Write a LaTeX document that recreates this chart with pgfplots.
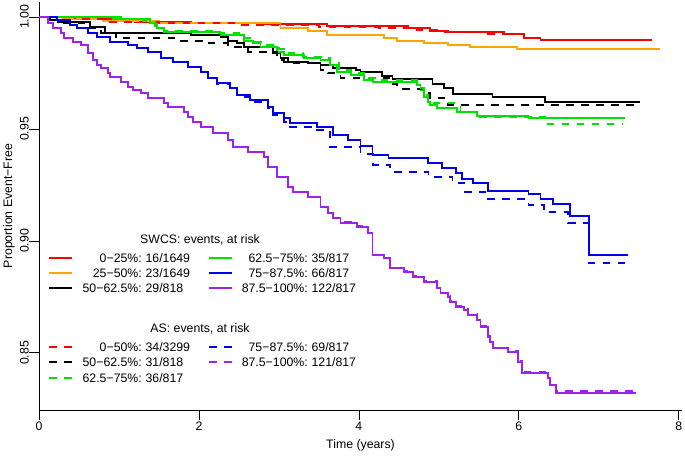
\documentclass[border=0pt]{standalone}
\usepackage{fontspec}
\setmainfont{Liberation Sans}
\usepackage{pgfplots}
\pgfplotsset{compat=1.18}
\definecolor{rred}{RGB}{255,0,0}
\definecolor{rorange}{RGB}{255,165,0}
\definecolor{rgreen}{RGB}{0,225,0}
\definecolor{rblue}{RGB}{0,0,235}
\definecolor{rpurple}{RGB}{160,32,240}
\tikzset{
  sol/.style={line width=1.9bp},
  dsh/.style={line width=1.9bp, dash pattern=on 7.5bp off 7.5bp},
}
\begin{document}
\fontsize{12.3bp}{14bp}\selectfont
\begin{tikzpicture}
\path[use as bounding box] (-39bp,-47bp) rectangle (646bp,410bp);
\begin{axis}[
  at={(0,0)}, anchor=south west,
  scale only axis, width=643bp, height=408bp,
  xmin=0, xmax=8.04, ymin=0.82449, ymax=1.0067,
  axis x line*=bottom, axis y line*=left,
  axis line style={black, line width=0.8bp, -},
  xtick={0,2,4,6,8}, xticklabels={0,2,4,6,8},
  ytick={0.85,0.90,0.95,1.00}, yticklabels={0.85,0.90,0.95,1.00},
  tick align=outside, major tick length=10bp,
  tick style={black, line width=0.8bp},
  xticklabel style={anchor=north, inner sep=0pt, yshift=-2bp},
  yticklabel style={rotate=90, anchor=south, inner sep=0pt},
  clip=false,
]
% SWCS solid
\addplot[const plot, sol, rred] coordinates {
(0,1) (0.6,0.99911) (0.9,0.99821) (1.2,0.99777) (1.9,0.99732) (2.75,0.99687) (3.6,0.99598)
(4.61,0.99495) (4.89,0.99388) (5.11,0.99317) (5.81,0.99227) (6.06,0.99076) (6.27,0.98973) (7.67,0.98973)};
\addplot[const plot, sol, rorange] coordinates {
(0,1) (0.3,0.99911) (0.8,0.99821) (1.5,0.99732) (2.3,0.99719) (3.02,0.99495) (3.36,0.99388) (3.6,0.99196)
(4.31,0.99076) (4.48,0.98942) (4.81,0.98853) (5.11,0.98750) (5.39,0.98674) (5.98,0.98557) (7.77,0.98557)};
\addplot[const plot, sol, black] coordinates {
(0,1) (0.14,0.99866) (0.24,0.99777) (0.64,0.99567) (0.83,0.99272) (1.9,0.99196) (2.27,0.99120)
(2.36,0.98942) (2.48,0.98825) (2.56,0.98674) (2.93,0.98379) (3.02,0.98156) (3.11,0.98004) (3.36,0.97932)
(3.52,0.97856) (3.68,0.97709) (3.96,0.97633) (4.02,0.97530) (4.29,0.97378) (4.42,0.97231) (4.92,0.96994)
(5.06,0.96816) (5.18,0.96561) (5.67,0.96414) (6.33,0.96217) (7.52,0.96217)};
\addplot[const plot, sol, rgreen] coordinates {
(0,1) (1.02,0.99911) (1.39,0.99732) (1.48,0.99509) (1.56,0.99343) (2.27,0.99196) (2.56,0.98942)
(2.68,0.98825) (2.77,0.98674) (2.98,0.98450) (3.06,0.98303) (3.31,0.98156) (3.52,0.98080) (3.64,0.97856)
(3.73,0.97557) (3.9,0.97410) (4.06,0.97186) (4.18,0.97110) (4.73,0.96963) (4.77,0.96740) (4.81,0.96441)
(4.86,0.96217) (4.89,0.96070) (4.98,0.95923) (5.23,0.95771) (5.48,0.95592) (6.12,0.95476) (7.33,0.95476)};
\addplot[const plot, sol, rblue] coordinates {
(0,1) (0.23,0.99866) (0.39,0.99643) (0.48,0.99495) (0.61,0.99272) (0.73,0.99120) (0.89,0.98897)
(1.11,0.98750) (1.23,0.98602) (1.36,0.98450) (1.52,0.98156) (1.68,0.98004) (1.86,0.97780) (2.02,0.97557)
(2.11,0.97262) (2.23,0.97039) (2.39,0.96816) (2.48,0.96517) (2.64,0.96293) (2.86,0.95994) (2.93,0.95699)
(3.06,0.95476) (3.14,0.95253) (3.48,0.95101) (3.68,0.94730) (3.86,0.94507) (4.02,0.94252) (4.17,0.93837)
(4.37,0.93690) (4.86,0.93466) (5.04,0.93243) (5.21,0.93020) (5.29,0.92752) (5.43,0.92573) (5.61,0.92229)
(6.12,0.92082) (6.27,0.91872) (6.43,0.91635) (6.64,0.91113) (6.88,0.89371) (7.36,0.89371)};
\addplot[const plot, sol, rpurple] coordinates {
(0,1) (0.11,0.99732) (0.18,0.99509) (0.27,0.99285) (0.31,0.99062) (0.43,0.98897) (0.52,0.98750)
(0.61,0.98379) (0.68,0.98080) (0.73,0.97856) (0.77,0.97722) (0.86,0.97486) (0.89,0.97334) (1.02,0.97110)
(1.11,0.96887) (1.18,0.96740) (1.27,0.96592) (1.36,0.96369) (1.56,0.96146) (1.61,0.95994) (1.81,0.95771)
(1.86,0.95547) (1.93,0.95324) (2.02,0.95101) (2.18,0.94806) (2.36,0.94507) (2.43,0.94208) (2.61,0.93984)
(2.81,0.93761) (2.86,0.93314) (2.98,0.92868) (3.11,0.92421) (3.18,0.92198) (3.36,0.91975) (3.52,0.91528)
(3.61,0.91233) (3.68,0.91010) (3.77,0.90813) (3.98,0.90635) (4.11,0.90340) (4.17,0.89371) (4.31,0.89224)
(4.39,0.88777) (4.56,0.88625) (4.68,0.88402) (4.81,0.88179) (4.98,0.87884) (5.02,0.87660) (5.11,0.87509)
(5.14,0.87285) (5.21,0.87062) (5.31,0.86915) (5.36,0.86691) (5.48,0.86468) (5.52,0.86169) (5.61,0.85722)
(5.64,0.85499) (5.68,0.85204) (5.86,0.85052) (5.99,0.84606) (6.04,0.84114) (6.36,0.83864) (6.39,0.83565)
(6.46,0.83221) (7.46,0.83221)};
% AS dashed
\addplot[const plot, dsh, rred] coordinates {
(0,1) (0.45,0.99911) (0.85,0.99777) (1.5,0.99719) (2.5,0.99643) (3.5,0.99553) (4.25,0.99509)
(4.65,0.99419) (5.0,0.99330) (5.6,0.99241) (6.06,0.99040) (6.27,0.98950) (7.62,0.98950)};
\addplot[const plot, dsh, black] coordinates {
(0,1) (0.12,0.99866) (0.29,0.99732) (0.64,0.99509) (0.77,0.99285) (0.96,0.99049) (1.71,0.98942)
(2.1,0.98825) (2.36,0.98674) (2.61,0.98450) (2.98,0.98080) (3.06,0.98004) (3.14,0.97932) (3.52,0.97633)
(3.61,0.97486) (3.77,0.97262) (4.42,0.96994) (4.48,0.96785) (4.81,0.96592) (4.89,0.96369) (5.11,0.96070)
(7.52,0.96070)};
\addplot[const plot, dsh, rgreen] coordinates {
(0,1) (0.9,0.99911) (1.3,0.99821) (1.45,0.99598) (1.56,0.99388) (2.2,0.99272) (2.5,0.99076)
(2.7,0.98897) (2.8,0.98750) (3.0,0.98557) (3.06,0.98379) (3.3,0.98227) (3.55,0.98156) (3.64,0.97932)
(3.75,0.97633) (3.9,0.97486) (4.1,0.97262) (4.2,0.97186) (4.73,0.97039) (4.77,0.96817) (4.81,0.96517)
(4.86,0.96293) (4.89,0.96159) (5.27,0.95771) (5.5,0.95547) (6.33,0.95221) (7.29,0.95221)};
\addplot[const plot, dsh, rblue] coordinates {
(0,1) (0.23,0.99866) (0.39,0.99643) (0.48,0.99495) (0.61,0.99272) (0.73,0.99120) (0.89,0.98897)
(1.11,0.98750) (1.23,0.98602) (1.36,0.98450) (1.52,0.98156) (1.68,0.98004) (1.86,0.97780) (2.02,0.97557)
(2.11,0.97262) (2.23,0.96994) (2.39,0.96740) (2.48,0.96441) (2.64,0.96217) (2.86,0.95923) (2.93,0.95623)
(3.06,0.95324) (3.14,0.95101) (3.48,0.94954) (3.64,0.94208) (4.02,0.93882) (4.18,0.93391) (4.39,0.93091)
(4.87,0.92868) (5.17,0.92573) (5.33,0.92198) (5.58,0.91872) (6.12,0.91604) (6.31,0.91278) (6.62,0.90813)
(6.88,0.89000) (7.36,0.89000)};
\addplot[const plot, dsh, rpurple] coordinates {
(0,1) (0.11,0.99732) (0.18,0.99509) (0.27,0.99285) (0.31,0.99062) (0.43,0.98897) (0.52,0.98750)
(0.61,0.98379) (0.68,0.98080) (0.73,0.97856) (0.77,0.97722) (0.86,0.97486) (0.89,0.97334) (1.02,0.97110)
(1.11,0.96887) (1.18,0.96740) (1.27,0.96592) (1.36,0.96369) (1.56,0.96146) (1.61,0.95994) (1.81,0.95771)
(1.86,0.95547) (1.93,0.95324) (2.02,0.95101) (2.18,0.94806) (2.36,0.94507) (2.43,0.94208) (2.61,0.93984)
(2.81,0.93761) (2.86,0.93314) (2.98,0.92868) (3.11,0.92421) (3.18,0.92198) (3.36,0.91975) (3.52,0.91528)
(3.61,0.91233) (3.68,0.91010) (3.77,0.90850) (3.98,0.90680) (4.11,0.90340) (4.17,0.89371) (4.31,0.89260)
(4.39,0.88800) (4.56,0.88680) (4.68,0.88430) (4.81,0.88200) (4.98,0.87900) (5.02,0.87680) (5.11,0.87530)
(5.14,0.87300) (5.21,0.87080) (5.31,0.86940) (5.36,0.86720) (5.48,0.86490) (5.52,0.86190) (5.61,0.85740)
(5.64,0.85520) (5.68,0.85230) (5.86,0.85080) (5.99,0.84630) (6.04,0.84140) (6.36,0.83900) (6.39,0.83600)
(6.46,0.83311) (7.46,0.83311)};
\end{axis}
% axis titles
\node[rotate=90, anchor=base] at (-27bp,204bp) {Proportion Event−Free};
\node[anchor=base] at (321.5bp,-38bp) {Time (years)};
% legend SWCS
\node[anchor=base] at (161bp,166.6bp) {SWCS: events, at risk};
\draw[sol, rred] (10bp,151.7bp) -- (33bp,151.7bp);
\draw[sol, rorange] (10bp,136.7bp) -- (33bp,136.7bp);
\draw[sol, black] (10bp,121.7bp) -- (33bp,121.7bp);
\draw[sol, rgreen] (170bp,151.7bp) -- (193bp,151.7bp);
\draw[sol, rblue] (170bp,136.7bp) -- (193bp,136.7bp);
\draw[sol, rpurple] (170bp,121.7bp) -- (193bp,121.7bp);
\begin{scope}[every node/.style={inner sep=0pt}]
\node[anchor=base east] at (103bp,147.3bp) {0−25\%:};
\node[anchor=base west] at (103bp,147.3bp) {\ 16/1649};
\node[anchor=base east] at (103bp,132.3bp) {25−50\%:};
\node[anchor=base west] at (103bp,132.3bp) {\ 23/1649};
\node[anchor=base east] at (103bp,117.3bp) {50−62.5\%:};
\node[anchor=base west] at (103bp,117.3bp) {\ 29/818};
\node[anchor=base east] at (269bp,147.3bp) {62.5−75\%:};
\node[anchor=base west] at (269bp,147.3bp) {\ 35/817};
\node[anchor=base east] at (269bp,132.3bp) {75−87.5\%:};
\node[anchor=base west] at (269bp,132.3bp) {\ 66/817};
\node[anchor=base east] at (269bp,117.3bp) {87.5−100\%:};
\node[anchor=base west] at (269bp,117.3bp) {\ 122/817};
\end{scope}
% legend AS
\node[anchor=base] at (161bp,77.3bp) {AS: events, at risk};
\draw[dsh, rred] (10bp,63.3bp) -- (33bp,63.3bp);
\draw[dsh, black] (10bp,47.7bp) -- (33bp,47.7bp);
\draw[dsh, rgreen] (10bp,32.3bp) -- (33bp,32.3bp);
\draw[dsh, rblue] (170bp,63.3bp) -- (193bp,63.3bp);
\draw[dsh, rpurple] (170bp,47.7bp) -- (193bp,47.7bp);
\begin{scope}[every node/.style={inner sep=0pt}]
\node[anchor=base east] at (103bp,58.9bp) {0−50\%:};
\node[anchor=base west] at (103bp,58.9bp) {\ 34/3299};
\node[anchor=base east] at (103bp,43.3bp) {50−62.5\%:};
\node[anchor=base west] at (103bp,43.3bp) {\ 31/818};
\node[anchor=base east] at (103bp,27.9bp) {62.5−75\%:};
\node[anchor=base west] at (103bp,27.9bp) {\ 36/817};
\node[anchor=base east] at (269bp,58.9bp) {75−87.5\%:};
\node[anchor=base west] at (269bp,58.9bp) {\ 69/817};
\node[anchor=base east] at (269bp,43.3bp) {87.5−100\%:};
\node[anchor=base west] at (269bp,43.3bp) {\ 121/817};
\end{scope}
\end{tikzpicture}
\end{document}
